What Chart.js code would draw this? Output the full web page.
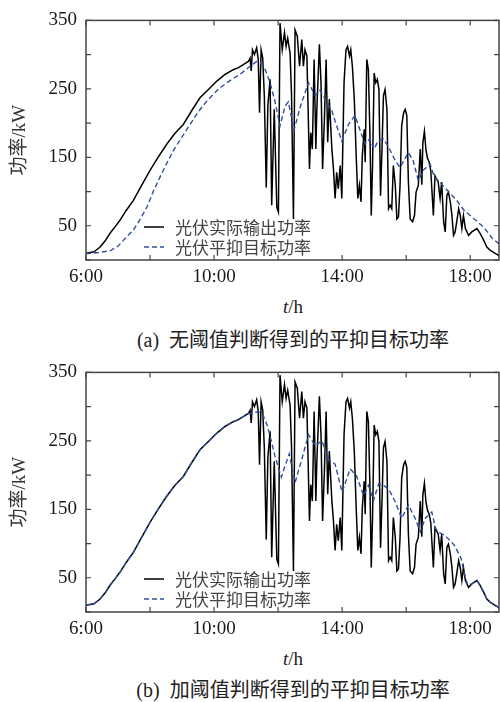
<!DOCTYPE html>
<html>
<head>
<meta charset="utf-8">
<script src="https://cdn.jsdelivr.net/npm/chart.js@4.4.1/dist/chart.umd.min.js"></script>
<style>
    body { margin: 0; background: #fff; width: 500px; height: 702px; position: relative; overflow: hidden;
           font-family: "Liberation Serif", "Noto Sans CJK SC", serif; color: #222; }
    .box { position: absolute; left: 0; width: 500px; height: 290px; }
    .xtitle { position: absolute; left: 243px; width: 100px; text-align: center; font-size: 19px; line-height: 22px; }
    .caption { position: absolute; left: 93px; width: 400px; text-align: center; font-size: 20px; line-height: 22px; color: #222; }
</style>
</head>
<body>
<div class="box" style="top:0px"><canvas id="chart-a" width="500" height="290"></canvas></div>
<div class="xtitle" style="top:296px"><i>t</i>/h</div>
<div class="caption" style="top:329px">(a)&nbsp;&nbsp;无阈值判断得到的平抑目标功率</div>

<div class="box" style="top:352px"><canvas id="chart-b" width="500" height="290"></canvas></div>
<div class="xtitle" style="top:648px"><i>t</i>/h</div>
<div class="caption" style="top:679px">(b)&nbsp;&nbsp;加阈值判断得到的平抑目标功率</div>

<script>
    // actual PV output (same curve in both panels), hours / kW
    const timeActual = [6.00, 6.25, 6.44, 6.60, 6.75, 6.90, 7.06, 7.25, 7.48, 7.75, 8.00, 8.25, 8.52, 8.78, 9.04, 9.30, 9.56, 9.80,
        10.08, 10.34, 10.60, 10.76, 10.90, 11.07, 11.125, 11.16, 11.20, 11.26, 11.33, 11.38, 11.42, 11.47, 11.52, 11.57,
        11.63, 11.68, 11.75, 11.80, 11.88, 11.96, 12.01, 12.06, 12.13, 12.20, 12.25, 12.30, 12.375, 12.42, 12.48, 12.53,
        12.60, 12.67, 12.74, 12.79, 12.84, 12.90, 12.98, 13.02, 13.07, 13.125, 13.18, 13.21, 13.29, 13.34, 13.39, 13.45,
        13.50, 13.55, 13.60, 13.68, 13.73, 13.78, 13.83, 13.88, 13.94, 13.99, 14.06, 14.12, 14.17, 14.23, 14.27, 14.32,
        14.38, 14.44, 14.49, 14.54, 14.59, 14.63, 14.69, 14.72, 14.77, 14.82, 14.87, 14.91, 14.95, 15.00, 15.05, 15.10,
        15.15, 15.20, 15.25, 15.29, 15.34, 15.40, 15.45, 15.50, 15.55, 15.60, 15.66, 15.71, 15.76, 15.81, 15.86, 15.92,
        15.97, 16.02, 16.07, 16.125, 16.20, 16.26, 16.31, 16.38, 16.44, 16.49, 16.52, 16.57, 16.62, 16.67, 16.72, 16.77,
        16.85, 16.90, 17.00, 17.06, 17.11, 17.17, 17.22, 17.27, 17.32, 17.38, 17.43, 17.48, 17.53, 17.58, 17.64, 17.69,
        17.74, 17.79, 17.85, 17.90, 17.95, 18.05, 18.21, 18.31, 18.42, 18.52, 18.62, 18.78, 18.95];
    const powerActual = [10, 12, 19, 28, 39, 48, 58, 72, 87, 110, 131, 150, 169, 185, 198, 218, 237, 248,
        261, 271, 278, 281, 285, 290, 295, 276, 307, 300, 310, 293, 215, 307, 295, 240,
        106, 225, 264, 80, 220, 77, 70, 346, 307, 332, 312, 324, 302, 240, 60, 336,
        327, 283, 322, 283, 307, 298, 133, 186, 162, 293, 162, 220, 315, 259, 133, 211,
        293, 172, 235, 162, 133, 90, 128, 104, 138, 90, 259, 307, 312, 298, 307, 283,
        235, 152, 90, 109, 85, 152, 191, 143, 293, 278, 180, 65, 138, 273, 259, 264,
        249, 94, 170, 240, 249, 220, 75, 80, 75, 138, 110, 60, 63, 110, 196, 215,
        220, 211, 114, 60, 56, 65, 99, 109, 162, 110, 170, 188, 160, 148, 143, 130,
        65, 123, 114, 90, 114, 56, 41, 94, 99, 85, 65, 36, 41, 56, 75, 65,
        46, 65, 46, 41, 36, 41, 46, 39, 29, 19, 14.5, 9.7, 5];

    // smoothing target without threshold (panel a)
    const timeTargetA = [6.00, 6.40, 6.75, 7.00, 7.17, 7.48, 7.70, 7.90, 8.10, 8.31, 8.52, 8.73, 9.00, 9.25, 9.50, 9.77,
        10.10, 10.40, 10.86, 11.125, 11.33, 11.44, 11.54, 11.65, 11.75, 11.90, 12.06, 12.22, 12.32, 12.50, 12.70, 12.95,
        13.16, 13.31, 13.50, 13.68, 13.78, 13.99, 14.20, 14.40, 14.55, 14.72, 14.86, 15.00, 15.12, 15.29, 15.45, 15.66,
        15.81, 16.07, 16.22, 16.38, 16.53, 16.75, 16.88, 17.00, 17.20, 17.58, 17.80, 18.05, 18.42, 18.70, 18.95];
    const powerTargetA = [9, 11, 13.5, 20, 29, 44, 60, 77, 100, 121, 141, 160, 180, 198, 216, 232,
        248, 259, 273, 283, 290, 288, 284, 272, 259, 232, 196, 225, 231, 190, 225, 259,
        240, 248, 232, 218, 203, 174, 198, 211, 191, 169, 177, 162, 174, 177, 165, 145,
        135, 157, 145, 116, 131, 140, 121, 116, 106, 87, 73, 63, 48, 31, 22];

    // smoothing target with threshold (panel b)
    const timeTargetB = [6.00, 6.25, 6.44, 6.60, 6.75, 6.90, 7.06, 7.25, 7.48, 7.75, 8.00, 8.25, 8.52, 8.78, 9.04, 9.30, 9.56, 9.80,
        10.08, 10.34, 10.60, 10.76, 10.90, 11.07, 11.20, 11.38, 11.54, 11.65, 11.75, 11.90, 12.10, 12.22, 12.35, 12.53,
        12.74, 12.95, 13.16, 13.37, 13.58, 13.78, 14.00, 14.25, 14.45, 14.67, 14.72, 14.82, 14.98, 15.14, 15.29, 15.45,
        15.66, 15.86, 16.07, 16.28, 16.44, 16.60, 16.80, 16.92, 17.00, 17.21, 17.50, 17.71, 17.85, 17.92, 18.05, 18.21,
        18.31, 18.42, 18.52, 18.62, 18.78, 18.95];
    const powerTargetB = [10, 12, 19, 28, 39, 48, 58, 72, 87, 110, 131, 150, 169, 185, 198, 218, 237, 248,
        261, 271, 278, 281, 285, 290, 290, 293, 286, 274, 257, 228, 197, 214, 231, 189,
        223, 259, 243, 250, 223, 216, 175, 209, 199, 170, 175, 185, 163, 187, 185, 180,
        161, 137, 156, 137, 117, 137, 146, 122, 117, 112, 98, 79, 50, 40, 41, 46,
        39, 29, 19, 14.5, 9.7, 5];

    const seriesLabels = ['光伏实际输出功率', '光伏平抑目标功率'];
    const xLabelHours = [6, 10, 14, 18];
    const yLabelValues = [50, 150, 250, 350];

    const serif = '"Liberation Serif", "Noto Sans CJK SC", serif';

    function to_points(times, values) {
        return times.map((t, i) => ({x: t, y: values[i]}));
    }

    // frame, inward ticks on all four sides, and the legend inside the plot
    const frame_plugin = {
        id: 'frame',
        afterDatasetsDraw(chart) {
            const ctx = chart.ctx;
            const a = chart.chartArea;
            const xs = chart.scales.x, ys = chart.scales.y;
            ctx.save();
            ctx.strokeStyle = '#444';
            ctx.lineWidth = 1.5;
            ctx.strokeRect(a.left, a.top, a.right - a.left, a.bottom - a.top);
            ctx.lineWidth = 1.2;
            ctx.beginPath();
            xs.ticks.forEach(t => {
                const px = xs.getPixelForValue(t.value);
                ctx.moveTo(px, a.bottom); ctx.lineTo(px, a.bottom - 5);
                ctx.moveTo(px, a.top); ctx.lineTo(px, a.top + 5);
            });
            ys.ticks.forEach(t => {
                const py = ys.getPixelForValue(t.value);
                ctx.moveTo(a.left, py); ctx.lineTo(a.left + 5, py);
                ctx.moveTo(a.right, py); ctx.lineTo(a.right - 5, py);
            });
            ctx.stroke();

            // legend
            ctx.font = '17px "Noto Sans CJK SC", sans-serif';
            ctx.textBaseline = 'middle';
            ctx.fillStyle = '#444';
            chart.data.datasets.forEach((ds, i) => {
                const yy = a.bottom - 33 + i * 20;
                ctx.beginPath();
                ctx.strokeStyle = ds.borderColor;
                ctx.lineWidth = ds.borderWidth;
                ctx.setLineDash(ds.borderDash || []);
                ctx.moveTo(a.left + 58, yy);
                ctx.lineTo(a.left + 78, yy);
                ctx.stroke();
                ctx.setLineDash([]);
                ctx.fillText(ds.label, a.left + 89, yy + 1);
            });
            ctx.restore();
        }
    };

    function create_chart(canvas_id, target_times, target_values) {
        return new Chart(document.getElementById(canvas_id), {
            type: 'line',
            data: {
                datasets: [{
                    label: seriesLabels[0],
                    data: to_points(timeActual, powerActual),
                    borderColor: '#000',
                    borderWidth: 1.5,
                    pointRadius: 0,
                    tension: 0,
                    order: 1
                }, {
                    label: seriesLabels[1],
                    data: to_points(target_times, target_values),
                    borderColor: '#2f4f9f',
                    borderWidth: 1.4,
                    borderDash: [5, 3],
                    pointRadius: 0,
                    tension: 0,
                    order: 0
                }]
            },
            options: {
                responsive: false,
                animation: false,
                layout: {padding: {top: 19, right: 1, left: 0, bottom: 0}},
                plugins: {legend: {display: false}, tooltip: {enabled: false}},
                scales: {
                    x: {
                        type: 'linear',
                        min: 6,
                        max: 18.9,
                        grid: {display: false, drawTicks: false},
                        border: {display: false},
                        afterFit: s => { s.height = 30; },
                        ticks: {
                            stepSize: 2,
                            includeBounds: false,
                            autoSkip: false,
                            maxRotation: 0,
                            padding: 6,
                            color: '#1a1a1a',
                            font: {family: serif, size: 19},
                            callback: v => xLabelHours.includes(v) ? v + ':00' : ''
                        }
                    },
                    y: {
                        min: 0,
                        max: 350,
                        grid: {display: false, drawTicks: false},
                        border: {display: false},
                        afterFit: s => { s.width = 86; },
                        ticks: {
                            stepSize: 50,
                            padding: 9,
                            color: '#1a1a1a',
                            font: {family: serif, size: 19},
                            callback: v => yLabelValues.includes(v) ? String(v) : ''
                        },
                        title: {
                            display: true,
                            text: '功率/kW',
                            color: '#333',
                            font: {family: serif, size: 19},
                            padding: {top: 9, bottom: 0}
                        }
                    }
                }
            },
            plugins: [frame_plugin]
        });
    }

    create_chart('chart-a', timeTargetA, powerTargetA);
    create_chart('chart-b', timeTargetB, powerTargetB);
</script>
</body>
</html>
